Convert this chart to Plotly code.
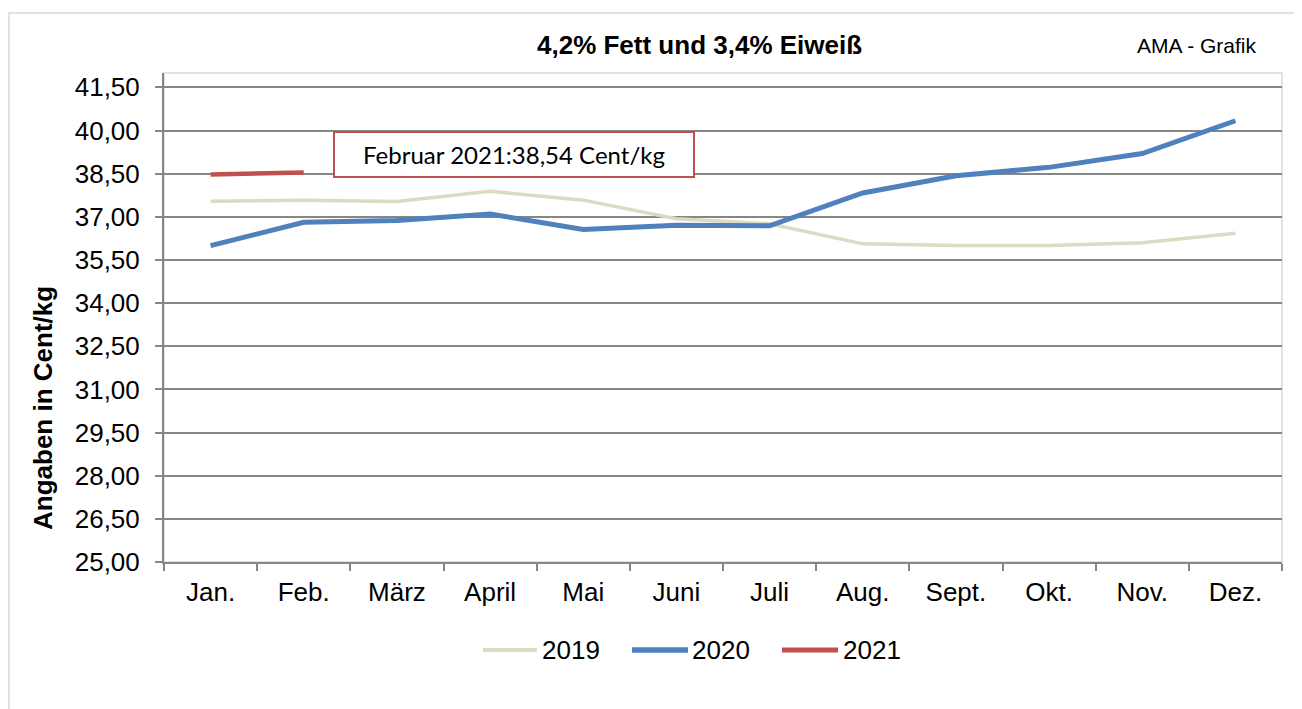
import plotly.graph_objects as go

months = ["Jan.", "Feb.", "März", "April", "Mai", "Juni", "Juli", "Aug.", "Sept.", "Okt.", "Nov.", "Dez."]
v2019 = [37.54, 37.58, 37.53, 37.89, 37.58, 36.93, 36.76, 36.06, 36.00, 36.00, 36.10, 36.43]
v2020 = [36.00, 36.81, 36.87, 37.10, 36.56, 36.71, 36.69, 37.83, 38.43, 38.72, 39.20, 40.34]
v2021 = [38.47, 38.54]
series_names = ["2019", "2020", "2021"]
series_colors = ["#ddd9c3", "#4f81bd", "#c0504d"]
series_widths = [3.5, 5, 4.5]
ytick_vals = [25.0, 26.5, 28.0, 29.5, 31.0, 32.5, 34.0, 35.5, 37.0, 38.5, 40.0, 41.5]
ytick_text = ["25,00", "26,50", "28,00", "29,50", "31,00", "32,50", "34,00", "35,50", "37,00", "38,50", "40,00", "41,50"]

# page has an 8px body margin; work in screen pixel coords and shift
OFF = 8
W, H = 1302 - OFF, 709 - OFF
L, R, T, B = 164 - OFF, 1282 - OFF, 73 - OFF, 562 - OFF
pw, ph = R - L, B - T


def px(x):
    return (x - OFF - L) / pw


def py(y):
    return (B - (y - OFF)) / ph


FONT = "Liberation Sans, Arial, sans-serif"
GRID = "#868686"

fig = go.Figure()
all_vals = [v2019, v2020, v2021]
for name, vals, col, wd in zip(series_names, all_vals, series_colors, series_widths):
    fig.add_trace(go.Scatter(x=months[:len(vals)], y=vals, mode="lines", name=name,
                             line=dict(color=col, width=wd), showlegend=False))

shapes = [
    dict(type="rect", xref="paper", yref="paper", x0=px(9), x1=px(1330), y0=py(13), y1=py(720),
         line=dict(color="#d9d9d9", width=1.5), layer="below"),
    dict(type="rect", xref="paper", yref="paper", x0=0, x1=1, y0=0, y1=1,
         line=dict(color="#d9d9d9", width=1.5), layer="below"),
]
annotations = [
    dict(text="<b>4,2% Fett und 3,4% Eiweiß</b>", xref="paper", yref="paper",
         x=px(699), y=py(45), xanchor="center", yanchor="middle", showarrow=False,
         font=dict(size=26, family=FONT)),
    dict(text="AMA - Grafik", xref="paper", yref="paper",
         x=px(1197), y=py(45), xanchor="center", yanchor="middle", showarrow=False,
         font=dict(size=21, family=FONT)),
    dict(text="<b>Angaben in Cent/kg</b>", xref="paper", yref="paper",
         x=px(43), y=py(408), xanchor="center", yanchor="middle", showarrow=False,
         textangle=-90, font=dict(size=26, family=FONT)),
    dict(text="Februar 2021:38,54 Cent/kg", xref="paper", yref="paper",
         x=px(514), y=py(154), xanchor="center", yanchor="middle", showarrow=False,
         font=dict(size=24, family="Lato, Carlito, sans-serif"),
         bordercolor="#c0504d", borderwidth=2, bgcolor="white",
         width=356, height=41),
]

# legend (drawn like the reference: long line keys)
leg_lines = [(483, 537), (632, 688), (782, 838)]
leg_text_x = [540, 690, 841]
leg_y = 650
for (a, b), tx, name, col, wd in zip(leg_lines, leg_text_x, series_names, series_colors, series_widths):
    shapes.append(dict(type="line", xref="paper", yref="paper", x0=px(a), x1=px(b),
                       y0=py(leg_y), y1=py(leg_y), line=dict(color=col, width=wd + 0.5)))
    annotations.append(dict(text=name, xref="paper", yref="paper", x=px(tx), y=py(leg_y),
                            xanchor="left", yanchor="middle", showarrow=False,
                            font=dict(size=26, family=FONT)))

fig.update_layout(
    width=W, height=H,
    margin=dict(l=L, r=W - R, t=T, b=H - B),
    paper_bgcolor="white", plot_bgcolor="white",
    font=dict(family=FONT, color="black", size=26),
    showlegend=False,
    xaxis=dict(type="category", range=[-0.5, 11.5], showgrid=False,
               tickson="boundaries", ticks="outside", ticklen=7, tickcolor=GRID, tickwidth=1.5,
               showline=True, linecolor=GRID, linewidth=2,
               tickfont=dict(size=26, family=FONT), ticklabelstandoff=6),
    yaxis=dict(range=[25, 42], tickvals=ytick_vals, ticktext=ytick_text,
               showgrid=True, gridcolor=GRID, gridwidth=1.5, zeroline=False,
               ticks="outside", ticklen=7, tickcolor=GRID, tickwidth=1.5,
               showline=True, linecolor=GRID, linewidth=2,
               tickfont=dict(size=26, family=FONT), ticklabelstandoff=10),
    shapes=shapes,
    annotations=annotations,
)

fig.write_html("out.html")
